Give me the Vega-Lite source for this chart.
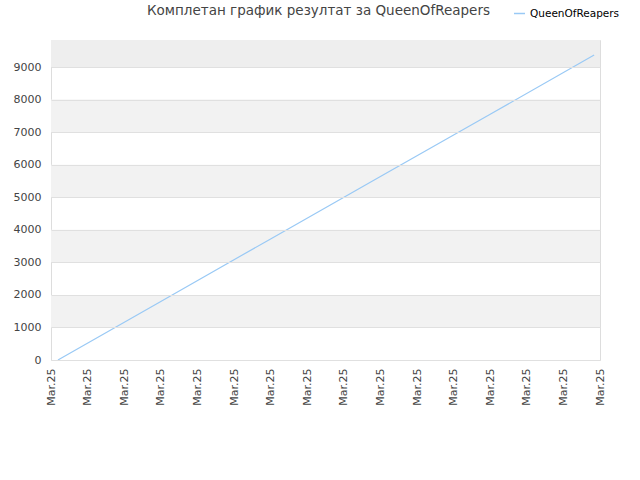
{
  "$schema": "https://vega.github.io/schema/vega-lite/v6.json",
  "autosize": {"type": "none"},
  "padding": {"left": 51, "top": 40, "right": 40, "bottom": 120},
  "width": 549,
  "height": 320,
  "title": {
    "text": "Комплетан график резултат за QueenOfReapers",
    "font": "DejaVu Sans",
    "fontSize": 13.5,
    "fontWeight": "normal",
    "color": "#444444",
    "anchor": "middle",
    "frame": "group",
    "dx": -7,
    "offset": -10
  },
  "config": {
    "font": "DejaVu Sans",
    "view": {"stroke": "#dddddd", "strokeWidth": 1},
    "axis": {"labelFont": "DejaVu Sans", "labelFontSize": 11, "labelColor": "#444444"}
  },
  "datasets": {
    "scores": [
      {"player": "QueenOfReapers", "day": 0.19, "score": 0},
      {"player": "QueenOfReapers", "day": 3, "score": 1800},
      {"player": "QueenOfReapers", "day": 6, "score": 3720},
      {"player": "QueenOfReapers", "day": 9, "score": 5640},
      {"player": "QueenOfReapers", "day": 12, "score": 7550},
      {"player": "QueenOfReapers", "day": 14.84, "score": 9370}
    ],
    "bands": [
      {"score": 1000, "to": 2000},
      {"score": 3000, "to": 4000},
      {"score": 5000, "to": 6000},
      {"score": 7000, "to": 8000}
    ],
    "top": [
      {"score": 9000, "to": 9830}
    ]
  },
  "encoding": {
    "y": {
      "field": "score",
      "type": "quantitative",
      "scale": {"domain": [0, 9830], "nice": false, "zero": true},
      "axis": {
        "title": null,
        "values": [0, 1000, 2000, 3000, 4000, 5000, 6000, 7000, 8000, 9000],
        "format": "d",
        "grid": true,
        "gridColor": "#e0e0e0",
        "ticks": false,
        "domain": false,
        "labelPadding": 10,
        "labelOverlap": false,
        "labelFlush": false,
        "zindex": 1
      }
    }
  },
  "layer": [
    {
      "data": {"name": "bands"},
      "mark": {"type": "rect", "color": "#f2f2f2"},
      "encoding": {"y2": {"field": "to"}}
    },
    {
      "data": {"name": "top"},
      "mark": {"type": "rect", "color": "#eeeeee"},
      "encoding": {"y2": {"field": "to"}}
    },
    {
      "data": {"name": "scores"},
      "mark": {"type": "line", "strokeWidth": 1.2},
      "encoding": {
        "x": {
          "field": "day",
          "type": "quantitative",
          "scale": {"domain": [0, 15], "nice": false, "zero": false},
          "axis": {
            "title": null,
            "values": [0, 1, 2, 3, 4, 5, 6, 7, 8, 9, 10, 11, 12, 13, 14, 15],
            "labelExpr": "'Mar.25'",
            "labelAngle": -90,
            "labelAlign": "right",
            "labelBaseline": "middle",
            "labelPadding": 8,
            "labelFlush": false,
            "labelOverlap": false,
            "grid": false,
            "ticks": false,
            "domain": false
          }
        },
        "color": {
          "field": "player",
          "type": "nominal",
          "scale": {"domain": ["QueenOfReapers"], "range": ["#99c9f5"]},
          "legend": {
            "title": null,
            "orient": "none",
            "legendX": 462,
            "legendY": -33,
            "symbolType": "stroke",
            "symbolStrokeWidth": 1.5,
            "symbolSize": 120,
            "labelFont": "DejaVu Sans",
            "labelFontSize": 10.5,
            "labelColor": "#000000"
          }
        }
      }
    }
  ]
}
